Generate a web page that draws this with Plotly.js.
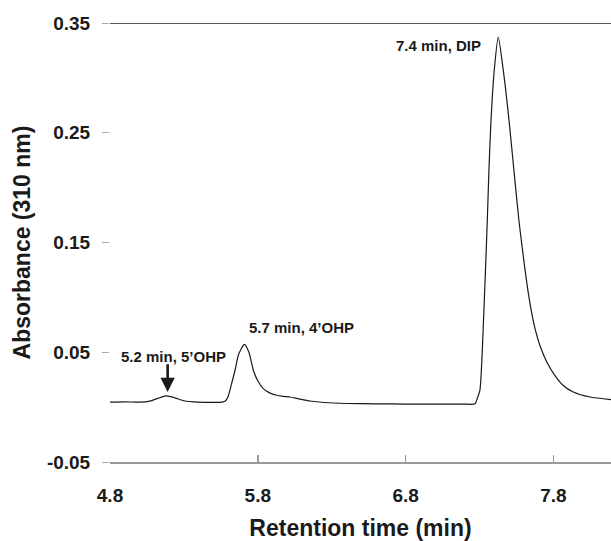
<!DOCTYPE html>
<html>
<head>
<meta charset="utf-8">
<script src="https://cdn.plot.ly/plotly-3.0.1.min.js"></script>
<style>html,body{margin:0;padding:0;background:#fff;}#chart{width:611px;height:541px;}</style>
</head>
<body>
<div id="chart"></div>
<script>
// Retention time (min)
const retentionTime = [4.80, 4.90, 5.00, 5.07, 5.12, 5.18, 5.24, 5.30, 5.40, 5.50, 5.56, 5.58, 5.60, 5.62, 5.646, 5.67, 5.709, 5.74, 5.77, 5.80, 5.837, 5.88, 5.928, 5.97, 6.018, 6.07, 6.153, 6.25, 6.40, 6.60, 6.80, 7.00, 7.20, 7.27, 7.285, 7.303, 7.33, 7.353, 7.364, 7.378, 7.40, 7.427, 7.461, 7.50, 7.533, 7.567, 7.600, 7.635, 7.670, 7.712, 7.760, 7.810, 7.865, 7.935, 8.048, 8.19];
// Absorbance at 310 nm
const absorbance = [0.0045, 0.0048, 0.0045, 0.0055, 0.0078, 0.0102, 0.0085, 0.0058, 0.0045, 0.0043, 0.0046, 0.0055, 0.0100, 0.0200, 0.0336, 0.0480, 0.0572, 0.0500, 0.0336, 0.0240, 0.0169, 0.0130, 0.0108, 0.0098, 0.0092, 0.0078, 0.0056, 0.0042, 0.0033, 0.0030, 0.0028, 0.0028, 0.0027, 0.0030, 0.0080, 0.0153, 0.0880, 0.1700, 0.2160, 0.2613, 0.3070, 0.3372, 0.3070, 0.2613, 0.2160, 0.1700, 0.1337, 0.1000, 0.0750, 0.0550, 0.0400, 0.0290, 0.0200, 0.0138, 0.0092, 0.0069];
const yTickVals = [-0.05, 0.05, 0.15, 0.25, 0.35];
const yTickText = ["-0.05", "0.05", "0.15", "0.25", "0.35"];
const xTickVals = [4.8, 5.8, 6.8, 7.8];
const xTickText = ["4.8", "5.8", "6.8", "7.8"];
const peakLabels = ["5.2 min, 5’OHP", "5.7 min, 4’OHP", "7.4 min, DIP"];
const peakLabelX = [5.233, 6.096, 7.021];
const peakLabelY = [0.0457, 0.0727, 0.3297];
const arrowTip = [5.19, 0.0138];
const arrowTail = [5.19, 0.0405];

const fontFam = "Liberation Sans, Arial, sans-serif";

const trace = {
  x: retentionTime, y: absorbance, type: 'scatter', mode: 'lines',
  line: {color: '#1a1a1a', width: 1.2, shape: 'spline', smoothing: 0.6},
  hoverinfo: 'skip'
};

const annFont = {family: fontFam, size: 15, color: '#1a1a1a', weight: 'bold'};
const annotations = [
  {x: peakLabelX[0], y: peakLabelY[0], xref: 'x', yref: 'y', text: peakLabels[0], showarrow: false, xanchor: 'center', yanchor: 'middle', font: annFont},
  {x: peakLabelX[1], y: peakLabelY[1], xref: 'x', yref: 'y', text: peakLabels[1], showarrow: false, xanchor: 'center', yanchor: 'middle', font: annFont},
  {x: peakLabelX[2], y: peakLabelY[2], xref: 'x', yref: 'y', text: peakLabels[2], showarrow: false, xanchor: 'center', yanchor: 'middle', font: annFont},
  {x: arrowTip[0], y: arrowTip[1], xref: 'x', yref: 'y', ax: arrowTail[0], ay: arrowTail[1], axref: 'x', ayref: 'y', text: '', showarrow: true, arrowhead: 2, arrowsize: 1.1, arrowwidth: 2.6, arrowcolor: '#1a1a1a'}
];

const layout = {
  width: 611, height: 541,
  margin: {l: 110, r: 0, t: 23, b: 79, pad: 0},
  paper_bgcolor: '#ffffff', plot_bgcolor: '#ffffff',
  showlegend: false,
  font: {family: fontFam, color: '#1a1a1a'},
  xaxis: {
    range: [4.8, 8.19], tickvals: xTickVals, ticktext: xTickText,
    ticks: 'inside', ticklen: 7, tickwidth: 1.5, tickcolor: '#999999',
    showline: true, linecolor: '#999999', linewidth: 1.5,
    showgrid: false, zeroline: false,
    tickfont: {family: fontFam, size: 19, color: '#1a1a1a', weight: 'bold'},
    ticklabelstandoff: 16,
    title: {text: 'Retention time (min)', font: {family: fontFam, size: 23, color: '#1a1a1a', weight: 'bold'}, standoff: 15}
  },
  yaxis: {
    range: [-0.05, 0.35], tickvals: yTickVals, ticktext: yTickText,
    ticks: 'outside', ticklen: 7, tickwidth: 1, tickcolor: '#aaaaaa',
    showline: false, showgrid: false, zeroline: false,
    tickfont: {family: fontFam, size: 19, color: '#1a1a1a', weight: 'bold'},
    ticklabelstandoff: 8,
    title: {text: 'Absorbance (310 nm)', font: {family: fontFam, size: 23, color: '#1a1a1a', weight: 'bold'}, standoff: 9}
  },
  shapes: [
    {type: 'line', xref: 'paper', yref: 'y', x0: 0, x1: 1, y0: 0.35, y1: 0.35, line: {color: '#222222', width: 1.5}}
  ],
  annotations: annotations
};

Plotly.newPlot('chart', [trace], layout, {displayModeBar: false, staticPlot: true});
</script>
</body>
</html>
